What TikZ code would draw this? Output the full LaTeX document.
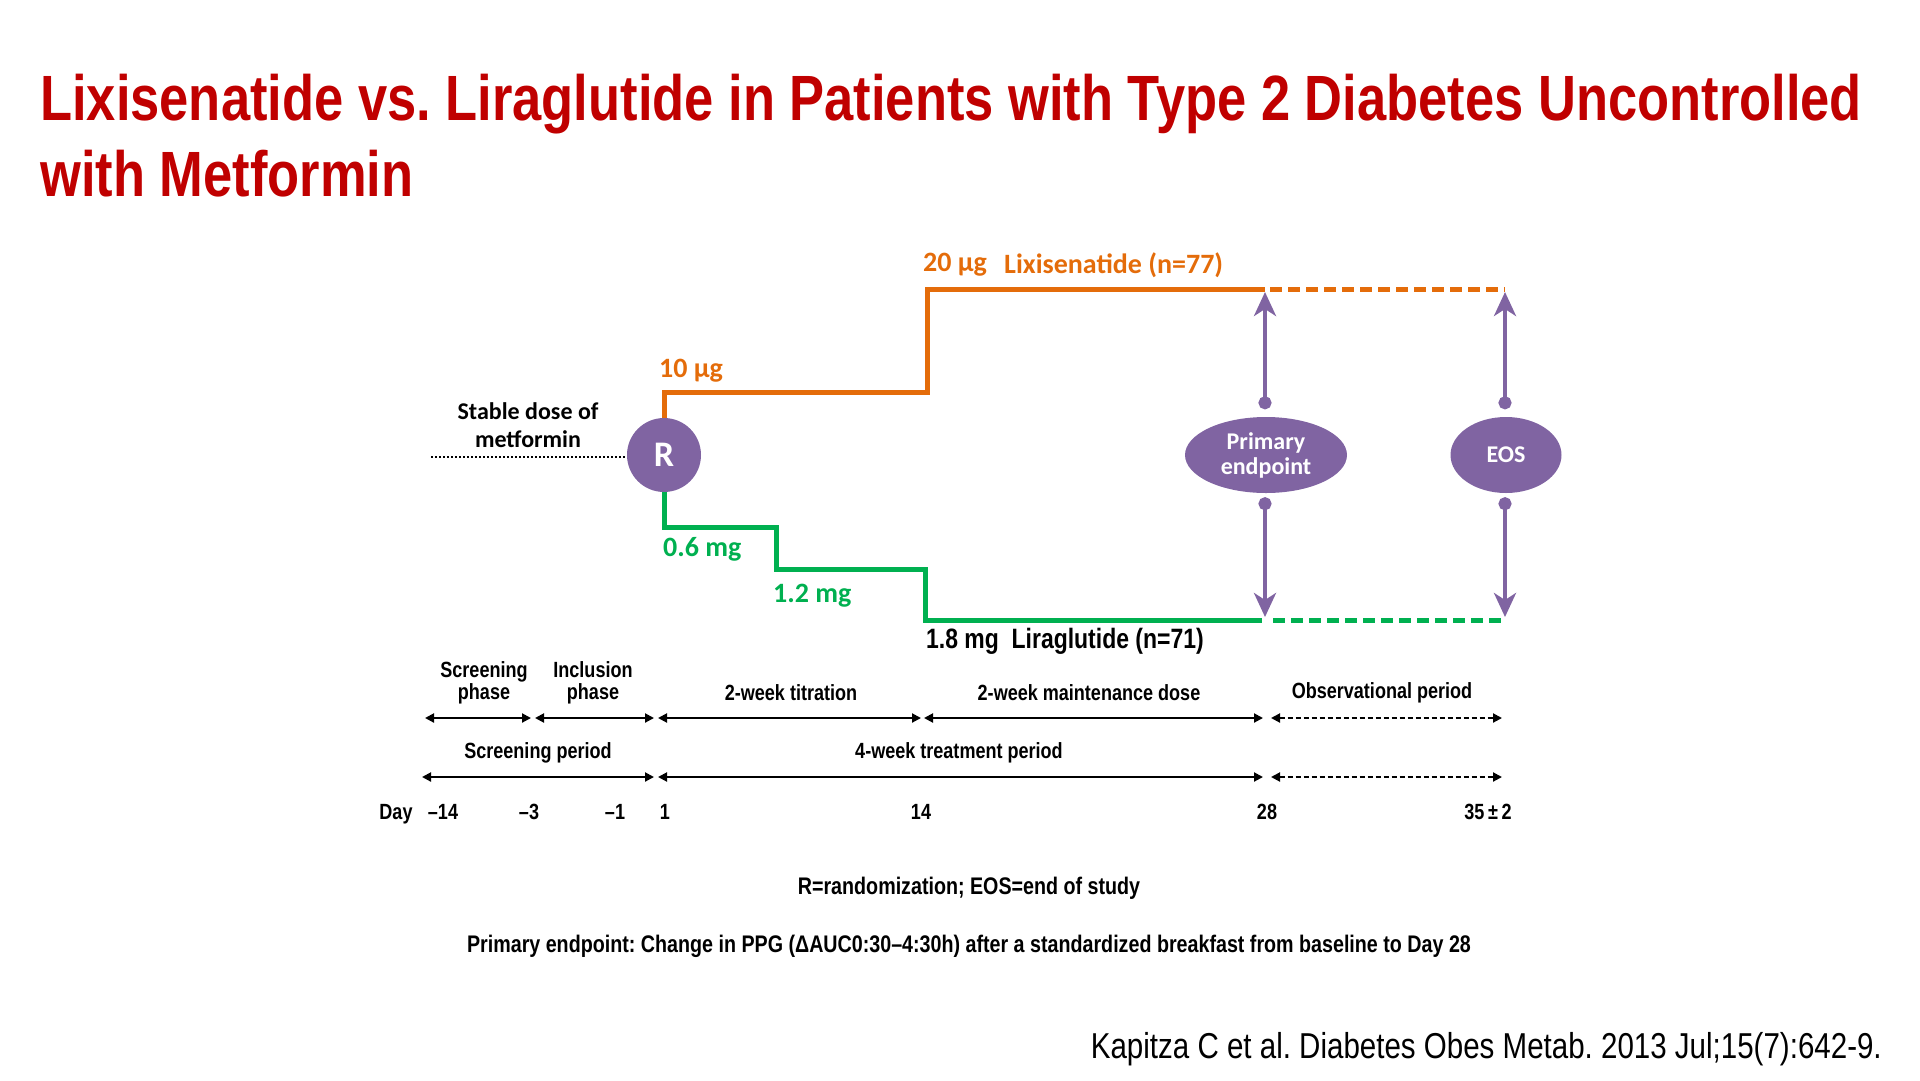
\documentclass[tikz,border=0pt]{standalone}
\usepackage{fontspec}
\setmainfont{Liberation Sans}
\newfontfamily\narrowfont[FakeStretch=0.82]{Liberation Sans}
\newfontfamily\calfont{Carlito}
\usetikzlibrary{arrows.meta,shapes.geometric,calc}
\definecolor{titlered}{HTML}{C00000}
\definecolor{dorange}{HTML}{E46C0A}
\definecolor{dgreen}{HTML}{00B050}
\definecolor{dpurple}{HTML}{8064A2}
\newcommand\myfs[2]{\fontsize{#1}{#2}\selectfont}
\frenchspacing
\begin{document}
\frenchspacing
\begin{tikzpicture}[x=1pt,y=-1pt,
  titletext/.style={anchor=base west, text=titlered, font=\narrowfont\bfseries\myfs{64}{76}, inner sep=0pt},
  callab/.style={anchor=west, font=\calfont\bfseries\myfs{28}{32}, inner sep=0pt},
  tltext/.style={font=\narrowfont\bfseries\myfs{22}{22}, align=center, inner sep=0pt},
  daytext/.style={font=\narrowfont\bfseries\myfs{22}{22}, anchor=base, inner sep=0pt},
  notetext/.style={font=\narrowfont\bfseries\myfs{24}{24}, inner sep=0pt},
  orangeline/.style={draw=dorange, line width=5pt, line join=miter},
  greenline/.style={draw=dgreen, line width=5pt, line join=miter},
  dashpat/.style={dash pattern=on 12pt off 6pt},
  purplebubble/.style={fill=dpurple, text=white, inner sep=0pt},
  parrow/.style={draw=dpurple, line width=4pt, {Circle[length=13pt,width=13pt]}-{Stealth[length=24pt,width=22pt,inset=7pt]}},
  tlarrow/.style={line width=2pt, {Triangle[length=9pt,width=9pt]}-{Triangle[length=9pt,width=9pt]}},
  tldash/.style={tlarrow, dash pattern=on 5pt off 3pt}
]
\useasboundingbox (0,0) rectangle (1920,1080);

% Title
\node[titletext] (title1) at (40,120) {Lixisenatide vs. Liraglutide in Patients with Type 2 Diabetes Uncontrolled};
\node[titletext] (title2) at (40,196) {with Metformin};

% Randomization and endpoints
\node[purplebubble, circle, minimum size=74pt, font=\calfont\bfseries\myfs{36}{36}] (R) at (664,455) {R};
\node[purplebubble, ellipse, minimum width=162pt, minimum height=76pt, align=center, font=\calfont\bfseries\myfs{24}{25}] (pe) at (1266,455) {Primary\\endpoint};
\node[purplebubble, ellipse, minimum width=111pt, minimum height=76pt, font=\calfont\bfseries\myfs{24}{25}] (eos) at (1506,455) {EOS};

% Stable dose of metformin
\node[font=\calfont\bfseries\myfs{24}{28}, align=center, inner sep=0pt] (stable) at (528,425) {Stable dose of\\metformin};
\coordinate (dotstart) at (431,457);
\draw[line width=2.2pt, dash pattern=on 2pt off 2pt] (dotstart) -- (R.west |- dotstart);

% Lixisenatide arm
\coordinate (o1) at (664,392);
\coordinate (o2) at (927,392);
\coordinate (o3) at (927,289);
\coordinate (o4) at (1265,289);
\coordinate (o5) at (1270,289);
\coordinate (o6) at (1505,289);
\draw[orangeline] (R.north) -- (o1) -- (o2) -- (o3) -- (o4);
\draw[orangeline, dashpat] (o5) -- (o6);
\node[callab, text=dorange] (l10) at (659,371) {10 µg};
\node[callab, text=dorange] (l20) at (923,265) {20 µg};
\node[callab, text=dorange] (llix) at (1004,265) {Lixisenatide (n=77)};

% Liraglutide arm
\coordinate (g1) at (664,527);
\coordinate (g2) at (776,527);
\coordinate (g3) at (776,569);
\coordinate (g4) at (925,569);
\coordinate (g5) at (925,620);
\coordinate (g6) at (1262,620);
\coordinate (g7) at (1273,620);
\coordinate (g8) at (1505,620);
\draw[greenline] (R.south) -- (g1) -- (g2) -- (g3) -- (g4) -- (g5) -- (g6);
\draw[greenline, dashpat] (g7) -- (g8);
\node[callab, text=dgreen] (l06) at (663,549) {0.6 mg};
\node[callab, text=dgreen] (l12) at (773,596) {1.2 mg};
\node[anchor=west, inner sep=0pt, font=\narrowfont\bfseries\myfs{28}{28}] (llir) at (926,641) {1.8 mg\ \ Liraglutide (n=71)};

% Endpoint arrows
\coordinate (peT) at (1265,292);
\coordinate (peB) at (1265,617);
\coordinate (eosT) at (1505,292);
\coordinate (eosB) at (1505,617);
\draw[parrow] ($(pe.north)+(-1,-7.5)$) -- (peT);
\draw[parrow] ($(pe.south)+(-1,4)$) -- (peB);
\draw[parrow] ($(eos.north)+(-1,-7.5)$) -- (eosT);
\draw[parrow] ($(eos.south)+(-1,4)$) -- (eosB);

% Timeline labels
\node[tltext] (tscr) at (484,683) {Screening\\phase};
\node[tltext] (tinc) at (593,683) {Inclusion\\phase};
\node[tltext] (ttit) at (791,693) {2-week titration};
\node[tltext] (tmain) at (1089,693) {2-week maintenance dose};
\node[tltext] (tobs) at (1382,693) {Observational period};
\node[tltext] (tscrp) at (538,753) {Screening period};
\node[tltext] (ttrt) at (959,753) {4-week treatment period};

% Timeline arrows, row 1
\coordinate (r1a) at (425,718);
\coordinate (r1b) at (531,718);
\coordinate (r1c) at (535,718);
\coordinate (r1d) at (654,718);
\coordinate (r1e) at (658,718);
\coordinate (r1f) at (921,718);
\coordinate (r1g) at (924,718);
\coordinate (r1h) at (1263,718);
\coordinate (r1i) at (1271,718);
\coordinate (r1j) at (1502,718);
\draw[tlarrow] (r1a) -- (r1b);
\draw[tlarrow] (r1c) -- (r1d);
\draw[tlarrow] (r1e) -- (r1f);
\draw[tlarrow] (r1g) -- (r1h);
\draw[tldash] (r1i) -- (r1j);

% Timeline arrows, row 2
\coordinate (r2a) at (422,777);
\coordinate (r2b) at (654,777);
\coordinate (r2c) at (658,777);
\coordinate (r2d) at (1263,777);
\coordinate (r2e) at (1271,777);
\coordinate (r2f) at (1502,777);
\draw[tlarrow] (r2a) -- (r2b);
\draw[tlarrow] (r2c) -- (r2d);
\draw[tldash] (r2e) -- (r2f);

% Day row
\node[daytext] (dday) at (396,819) {Day};
\node[daytext] (dm14) at (443,819) {–14};
\node[daytext] (dm3) at (529,819) {–3};
\node[daytext] (dm1) at (615,819) {–1};
\node[daytext] (d1) at (665,819) {1};
\node[daytext] (d14) at (921,819) {14};
\node[daytext] (d28) at (1267,819) {28};
\node[daytext] (d35) at (1488,819) {35\,±\,2};

% Notes
\node[notetext] (note1) at (969,888) {R=randomization; EOS=end of study};
\node[notetext] (note2) at (969,946) {Primary endpoint: Change in PPG (ΔAUC0:30–4:30h) after a standardized breakfast from baseline to Day 28};
\node[anchor=east, inner sep=0pt, font=\narrowfont\myfs{36}{36}] (ref) at (1882,1049) {Kapitza C et al. Diabetes Obes Metab. 2013 Jul;15(7):642-9.};
\end{tikzpicture}
\end{document}
